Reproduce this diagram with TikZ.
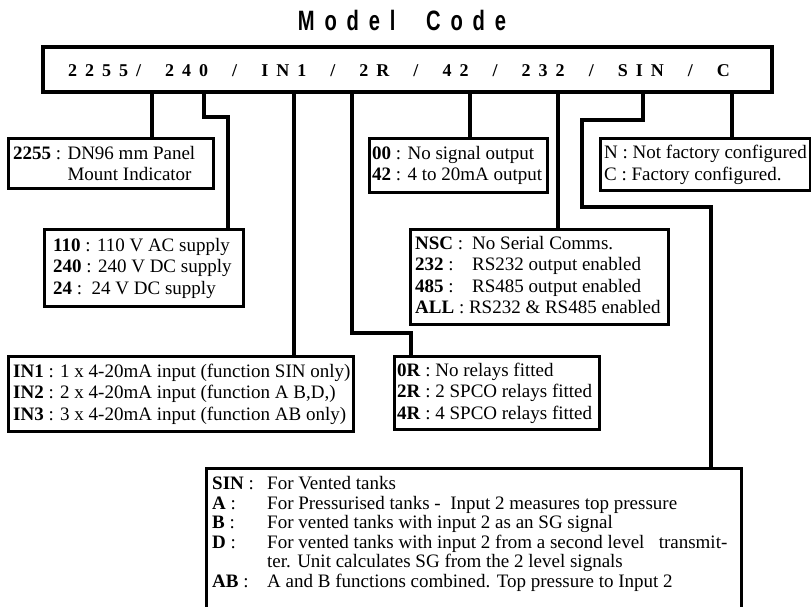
\documentclass[tikz,border=0pt]{standalone}
\usepackage{fontspec}
\setmainfont{Liberation Serif}
\newfontfamily\titlefont[FakeStretch=0.72,LetterSpace=35]{Liberation Sans}
\newcommand\cg{\hfill}
\newcommand\cG{\hspace{\stretch{3}}}
\begin{document}
\begin{tikzpicture}[x=1pt,y=-1pt,
  barbox/.style={draw,line width=4pt,inner sep=0pt},
  box/.style={draw,line width=3.3pt,inner sep=0pt,anchor=north west},
  boxtext/.style={anchor=west,inner sep=0pt,align=left,font=\fontsize{19}{21.5}\selectfont},
  conn/.style={line width=3.3pt}]
\useasboundingbox (0,0) rectangle (811,607);
\clip (0,0) rectangle (811,607);
% title and code bar
\node[font=\titlefont\bfseries\fontsize{28}{30}\selectfont] (title) at (402,20) {Model\ \ Code};
\node[barbox,minimum width=729pt,minimum height=45pt] (bar) at (407.5,69.5) {};
\node[font=\bfseries\fontsize{18}{20}\selectfont,inner sep=0pt] (code) at (399,71)
  {\makebox[662pt][s]{2\cg2\cg5\cg5\cg/\cG2\cg4\cg0\cG/\cG I\cg N\cg1\cG/\cG2\cg R\cG/\cG4\cg2\cG/\cG2\cg3\cg2\cG/\cG S\cg I\cg N\cG/\cG C}};
% boxes
\node[box,minimum width=205pt,minimum height=50pt] (b2255) at (7,137) {};
\node[boxtext] (t2255) at ([xshift=6pt]b2255.west)
  {\textbf{2255} : DN96 mm Panel\\\hphantom{\textbf{2255} : }Mount Indicator};
\node[box,minimum width=199pt,minimum height=77pt] (b110) at (43,228) {};
\node[boxtext] (t110) at ([xshift=10pt]b110.west)
  {\textbf{110} : 110 V AC supply\\\textbf{240} : 240 V DC supply\\\textbf{24} :\ \ 24 V DC supply};
\node[box,minimum width=345pt,minimum height=75pt] (bIN) at (7,355) {};
\node[boxtext] (tIN) at ([xshift=6pt]bIN.west)
  {\textbf{IN1} : 1 x 4-20mA input (function SIN only)\\
   \textbf{IN2} : 2 x 4-20mA input (function A B,D,)\\
   \textbf{IN3} : 3 x 4-20mA input (function AB only)};
\node[box,minimum width=178pt,minimum height=54pt] (b00) at (368,137) {};
\node[boxtext] (t00) at ([xshift=4pt]b00.west)
  {\textbf{00} : No signal output\\\textbf{42} : 4 to 20mA output};
\node[box,minimum width=210pt,minimum height=52pt] (bNC) at (599,137) {};
\node[boxtext] (tNC) at ([xshift=5pt]bNC.west)
  {N : Not factory configured\\C : Factory configured.};
\node[box,minimum width=258pt,minimum height=95pt] (bNSC) at (409,228) {};
\node[boxtext] (tNSC) at ([xshift=6pt]bNSC.west)
  {\begin{tabular}{@{}l@{\hspace{9pt}}l@{}}
   \textbf{NSC} : & No Serial Comms.\\
   \textbf{232} : & RS232 output enabled\\
   \textbf{485} : & RS485 output enabled\\
   \multicolumn{2}{@{}l@{}}{\textbf{ALL} : RS232 \& RS485 enabled}
   \end{tabular}};
\node[box,minimum width=205pt,minimum height=73pt] (b0R) at (393,355) {};
\node[boxtext] (t0R) at ([xshift=4pt]b0R.west)
  {\textbf{0R} : No relays fitted\\\textbf{2R} : 2 SPCO relays fitted\\\textbf{4R} : 4 SPCO relays fitted};
\node[box,minimum width=535pt,minimum height=150pt] (bSIN) at (205,467) {};
\node[anchor=north west,inner sep=0pt,font=\fontsize{19}{19.5}\selectfont] (tSIN) at (212,476)
  {\begin{tabular}{@{}p{55pt}@{}l@{}}
   \textbf{SIN} : & For Vented tanks\\
   \textbf{A} : & For Pressurised tanks -\ \ Input 2 measures top pressure\\
   \textbf{B} : & For vented tanks with input 2 as an SG signal\\
   \textbf{D} : & For vented tanks with input 2 from a second level\ \ \ transmit-\\
    & ter. Unit calculates SG from the 2 level signals\\
   \textbf{AB} : & A and B functions combined. Top pressure to Input 2
   \end{tabular}};
% tap points on the code bar
\coordinate (k1) at (152,92);
\coordinate (k2) at (204,92);
\coordinate (k3) at (294,92);
\coordinate (k4) at (352,92);
\coordinate (k5) at (470,92);
\coordinate (k6) at (558,92);
\coordinate (k7) at (643,92);
\coordinate (k8) at (732,92);
% connectors
\draw[conn] (k1) -- (k1 |- b2255.north);
\draw[conn] (k2) -- (204,117) -- (228,117) -- (228,228 |- b110.north);
\draw[conn] (k3) -- (k3 |- bIN.north);
\draw[conn] (k4) -- (352,333) -- (411,333) -- (411,355 |- b0R.north);
\draw[conn] (k5) -- (k5 |- b00.north);
\draw[conn] (k6) -- (k6 |- bNSC.north);
\draw[conn] (k7) -- (643,120) -- (582,120) -- (582,207) -- (711,207) -- (711,467 |- bSIN.north);
\draw[conn] (k8) -- (k8 |- bNC.north);
\end{tikzpicture}
\end{document}
